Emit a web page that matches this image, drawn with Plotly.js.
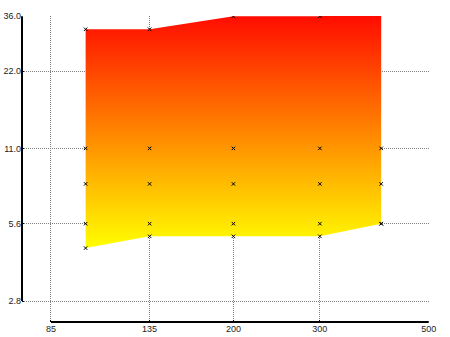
<!DOCTYPE html>
<html>
<head>
<meta charset="utf-8">
<script src="https://cdn.plot.ly/plotly-3.0.1.min.js"></script>
<style>html,body{margin:0;padding:0;background:#fff;}#chart{width:450px;height:337px;}</style>
</head>
<body>
<div id="chart"></div>
<script>
// Data
var xVals = [100, 135, 200, 300, 400];
var upperVals = [32, 32, 36, 36, 40];
var lowerVals = [4.5, 5.0, 5.0, 5.0, 5.6];
var midLevels = [11, 8, 5.6];

var xTickVals = [85, 135, 200, 300, 500];
var xTickText = ['85', '135', '200', '300', '500'];
var yTickVals = [2.8, 5.6, 11, 22, 36];
var yTickText = ['2.8', '5.6', '11.0', '22.0', '36.0'];

// polygon
var polyX = xVals.concat(xVals.slice().reverse());
var polyY = upperVals.concat(lowerVals.slice().reverse());

// marker grid
var mx = [], my = [];
xVals.forEach(function (x, i) {
  var col = [upperVals[i]].concat(midLevels).concat([lowerVals[i]]);
  col.forEach(function (y) { mx.push(x); my.push(y); });
});

var L = Math.log10;
var xr = [L(85) - 0.05904, L(500) + 0.0005];
var yr = [L(2.8) - 0.08172, L(36) + 0.0005];
function xf(v) { return (L(v) - xr[0]) / (xr[1] - xr[0]); }
function yf(v) { return (L(v) - yr[0]) / (yr[1] - yr[0]); }

var traces = [
  {
    type: 'scatter', mode: 'lines', x: polyX, y: polyY,
    fill: 'toself',
    fillgradient: { type: 'vertical', colorscale: [[0, '#ffff00'], [1, '#ff0000']] },
    line: { width: 0, color: 'rgba(0,0,0,0)' },
    hoverinfo: 'skip', showlegend: false
  },
  {
    type: 'scatter', mode: 'markers', x: mx, y: my,
    marker: { symbol: 'x-thin', size: 3.5, color: '#000', line: { width: 1, color: '#000' } },
    cliponaxis: true, showlegend: false
  }
];

var axisCommon = {
  type: 'log',
  showgrid: true, gridcolor: '#808080', griddash: '1px,1px', gridwidth: 1,
  zeroline: false, showline: false,
  ticks: 'inside', ticklen: 2, tickcolor: '#000', tickwidth: 1,
  tickmode: 'array',
  tickfont: { family: 'Liberation Sans, Arial, sans-serif', size: 9, color: '#222' }
};

var layout = {
  width: 450, height: 337,
  margin: { l: 22, r: 21, t: 16, b: 15, pad: 0 },
  paper_bgcolor: '#fff', plot_bgcolor: '#fff',
  showlegend: false,
  xaxis: Object.assign({}, axisCommon, { range: xr, tickvals: xTickVals, ticktext: xTickText }),
  yaxis: Object.assign({}, axisCommon, { range: yr, tickvals: yTickVals, ticktext: yTickText }),
  shapes: [
    { type: 'line', xref: 'paper', yref: 'paper', x0: xf(85), x1: xf(500), y0: 0, y1: 0, line: { color: '#000', width: 2 } },
    { type: 'line', xref: 'paper', yref: 'paper', x0: 0, x1: 0, y0: yf(2.8), y1: yf(36), line: { color: '#000', width: 2 } }
  ]
};

Plotly.newPlot('chart', traces, layout, { displayModeBar: false, staticPlot: true });
</script>
</body>
</html>
